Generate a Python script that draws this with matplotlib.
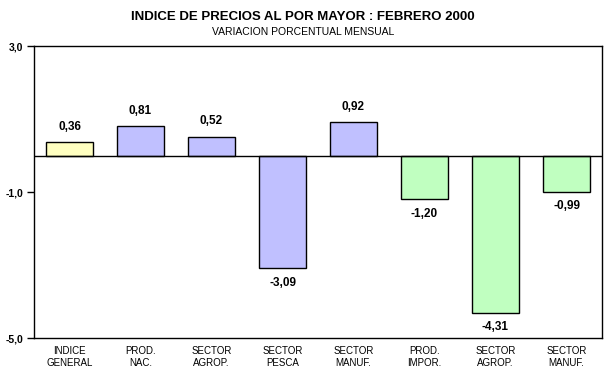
import matplotlib.pyplot as plt

# Data
categories = ["INDICE\nGENERAL", "PROD.\nNAC.", "SECTOR\nAGROP.", "SECTOR\nPESCA",
              "SECTOR\nMANUF.", "PROD.\nIMPOR.", "SECTOR\nAGROP.", "SECTOR\nMANUF."]
values = [0.36, 0.81, 0.52, -3.09, 0.92, -1.20, -4.31, -0.99]
colors = ["#FFFFC0", "#C0C0FF", "#C0C0FF", "#C0C0FF", "#C0C0FF",
          "#C0FFC0", "#C0FFC0", "#C0FFC0"]
yticks = [3.0, -1.0, -5.0]

plt.rcParams['font.family'] = ['Liberation Sans', 'DejaVu Sans']

fig = plt.figure(figsize=(6.06, 3.83), dpi=100)
ax = fig.add_axes([34 / 606, 45 / 383, 568 / 606, 292 / 383])

x = range(len(values))
ax.bar(x, values, width=0.66, color=colors, edgecolor="black", linewidth=1, zorder=3)
ax.axhline(0, color="black", linewidth=1, zorder=4)

ax.set_xlim(-0.5, len(values) - 0.5)
ax.set_ylim(-5, 3)
ax.set_yticks(yticks)
ax.set_yticklabels([f"{v:.1f}".replace(".", ",") for v in yticks],
                   fontsize=7.5, fontweight="bold")
ax.tick_params(axis="y", direction="out", length=5, width=1, pad=3)
ax.set_xticks(list(x))
ax.set_xticklabels(categories, fontsize=7, linespacing=1.25)
ax.tick_params(axis="x", length=0, pad=6)

for s in ax.spines.values():
    s.set_linewidth(1)

# value labels
for i, v in enumerate(values):
    txt = f"{v:.2f}".replace(".", ",")
    if v >= 0:
        ax.annotate(txt, (i, v), xytext=(0, 6.5), textcoords="offset points",
                    ha="center", va="bottom", fontsize=8.5, fontweight="bold")
    else:
        ax.annotate(txt, (i, v), xytext=(0, -6), textcoords="offset points",
                    ha="center", va="top", fontsize=8.5, fontweight="bold")

fig.text(0.5, 1 - 17 / 383, "INDICE DE PRECIOS AL POR MAYOR : FEBRERO 2000",
         ha="center", va="center", fontsize=9.5, fontweight="bold")
fig.text(0.5, 1 - 32 / 383, "VARIACION PORCENTUAL MENSUAL",
         ha="center", va="center", fontsize=7.5)

fig.savefig("out.png", dpi=100)
